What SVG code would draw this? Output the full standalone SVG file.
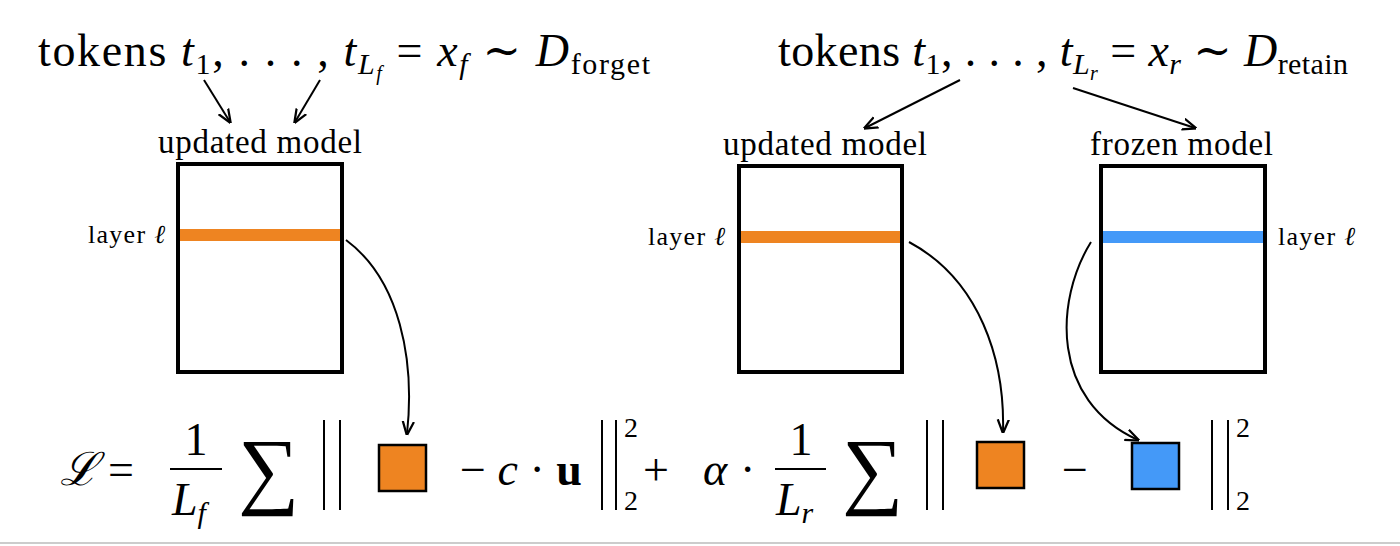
<svg xmlns="http://www.w3.org/2000/svg" width="1400" height="546" viewBox="0 0 1400 546">
<defs>
<marker id="ah" viewBox="0 0 10 10" refX="9" refY="5" markerWidth="7" markerHeight="7" orient="auto-start-reverse"><path d="M0,1 L10,5 L0,9" fill="none" stroke="#000" stroke-width="1.6"/></marker>
<style>
text{font-family:"Liberation Serif","DejaVu Serif",serif;fill:#000}
.box{fill:#fff;stroke:#000;stroke-width:4}
.con{fill:none;stroke:#000;stroke-width:2;marker-end:url(#ah)}
.t{font-size:46px}.lab{font-size:33px}.ly{font-size:26px}.eq{font-size:46px}
.it{font-style:italic}
.bar{stroke:#000;stroke-width:2.5}
</style>
</defs>
<rect width="1400" height="546" fill="#fff"/>
<line x1="0" y1="543" x2="1400" y2="543" stroke="#ccc" stroke-width="2"/>
<g id="tokens-forget"><text class="t" x="38" y="66" textLength="612" lengthAdjust="spacing">tokens <tspan class="it">t</tspan><tspan font-size="30" dy="8">1</tspan><tspan dy="-8">, . . . , </tspan><tspan class="it">t</tspan><tspan font-size="30" dy="8" class="it">L</tspan><tspan font-size="20" dy="6" class="it">f</tspan><tspan dy="-14"> = </tspan><tspan class="it">x</tspan><tspan font-size="30" dy="8" class="it">f</tspan><tspan dy="-8"> ∼ </tspan><tspan class="it">D</tspan><tspan font-size="30" dy="8">forget</tspan></text></g>
<g id="tokens-retain"><text class="t" x="778" y="66" textLength="570" lengthAdjust="spacing">tokens <tspan class="it">t</tspan><tspan font-size="30" dy="8">1</tspan><tspan dy="-8">, . . . , </tspan><tspan class="it">t</tspan><tspan font-size="30" dy="8" class="it">L</tspan><tspan font-size="20" dy="6" class="it">r</tspan><tspan dy="-14"> = </tspan><tspan class="it">x</tspan><tspan font-size="30" dy="8" class="it">r</tspan><tspan dy="-8"> ∼ </tspan><tspan class="it">D</tspan><tspan font-size="30" dy="8">retain</tspan></text></g>
<g id="model-left">
<text class="lab" x="158" y="153" textLength="204" lengthAdjust="spacing">updated model</text>
<rect class="box" x="178" y="164" width="164" height="208"/>
<rect x="180" y="229" width="160" height="12" fill="#ee8421"/>
<text class="ly" x="88" y="243" textLength="77">layer <tspan class="it">ℓ</tspan></text>
</g>
<g id="model-mid">
<text class="lab" x="723" y="155" textLength="204" lengthAdjust="spacing">updated model</text>
<rect class="box" x="739" y="166" width="163" height="206"/>
<rect x="741" y="231" width="159" height="12" fill="#ee8421"/>
<text class="ly" x="648" y="245" textLength="77">layer <tspan class="it">ℓ</tspan></text>
</g>
<g id="model-right">
<text class="lab" x="1090" y="155" textLength="183" lengthAdjust="spacing">frozen model</text>
<rect class="box" x="1101" y="166" width="164" height="206"/>
<rect x="1103" y="231" width="160" height="12" fill="#4499f8"/>
<text class="ly" x="1278" y="245" textLength="77">layer <tspan class="it">ℓ</tspan></text>
</g>
<g id="connectors">
<path class="con" d="M204,80 L230,122"/>
<path class="con" d="M320,80 L295,122"/>
<path class="con" d="M960,80 L865,128"/>
<path class="con" d="M1073,88 L1195,128"/>
<path class="con" d="M346,240 C400,280 415,360 407,434"/>
<path class="con" d="M909,242 C980,280 1005,360 1003,432"/>
<path class="con" d="M1091,242 C1055,300 1050,400 1138,440"/>
</g>
<g id="equation">
<text class="eq it" x="60" y="485">ℒ</text>
<text class="eq" x="108" y="485">=</text>
<text class="eq" x="196" y="455" text-anchor="middle">1</text>
<line x1="170" y1="469" x2="222" y2="469" stroke="#000" stroke-width="2"/>
<text class="eq it" x="172" y="515">L<tspan font-size="30" dy="8">f</tspan></text>
<text x="238" y="498" font-size="86" font-family="DejaVu Serif">∑</text>
<line x1="324" y1="420" x2="324" y2="510" stroke="#000" stroke-width="2"/>
<line x1="340" y1="420" x2="340" y2="510" stroke="#000" stroke-width="2"/>
<g id="sq-forget"><rect class="bar" x="379" y="445" width="47" height="46" fill="#ee8421"/></g>
<text class="eq" x="460" y="485">− <tspan class="it">c</tspan> · <tspan font-weight="bold">u</tspan></text>
<line x1="602" y1="420" x2="602" y2="510" stroke="#000" stroke-width="2"/>
<line x1="616" y1="420" x2="616" y2="510" stroke="#000" stroke-width="2"/>
<text x="624" y="437" font-size="28">2</text>
<text x="624" y="510" font-size="28">2</text>
<text class="eq" x="643" y="485">+</text>
<text class="eq it" x="703" y="485">α</text>
<text class="eq" x="740" y="485">·</text>
<text class="eq" x="801" y="455" text-anchor="middle">1</text>
<line x1="775" y1="469" x2="826" y2="469" stroke="#000" stroke-width="2"/>
<text class="eq it" x="776" y="515">L<tspan font-size="30" dy="8">r</tspan></text>
<text x="842" y="498" font-size="86" font-family="DejaVu Serif">∑</text>
<line x1="927" y1="420" x2="927" y2="510" stroke="#000" stroke-width="2"/>
<line x1="943" y1="420" x2="943" y2="510" stroke="#000" stroke-width="2"/>
<g id="sq-updated"><rect class="bar" x="977" y="442" width="47" height="46" fill="#ee8421"/></g>
<text class="eq" x="1062" y="485">−</text>
<g id="sq-frozen"><rect class="bar" x="1132" y="443" width="47" height="46" fill="#4499f8"/></g>
<line x1="1212" y1="420" x2="1212" y2="510" stroke="#000" stroke-width="2"/>
<line x1="1228" y1="420" x2="1228" y2="510" stroke="#000" stroke-width="2"/>
<text x="1236" y="437" font-size="28">2</text>
<text x="1236" y="510" font-size="28">2</text>
</g>
</svg>
